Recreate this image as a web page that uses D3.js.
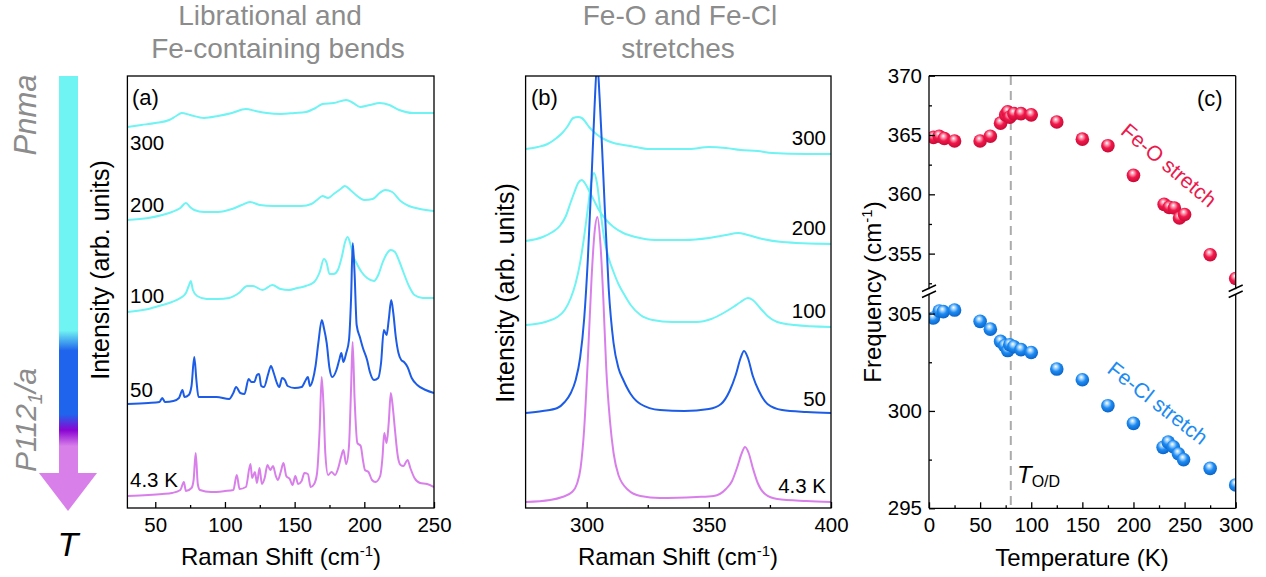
<!DOCTYPE html>
<html><head><meta charset="utf-8">
<script src="https://cdn.jsdelivr.net/npm/d3@7"></script>
<style>body{margin:0;background:#fff} svg text{font-family:"Liberation Sans",Arial,sans-serif}</style>
</head><body><svg id="c" width="1266" height="577"></svg>
<script>
// ---------- DATA ----------
// Panel (a): Raman spectra, low-frequency region (x: cm^-1, y: stacked intensity, arb. units)
const a300 = [[30,381],[40,383],[50,385],[60,388],[65,392],[69,395],[75,393],[85,390],[95,392],[105,395],[115,399],[122,397],[130,395],[140,394],[150,395],[158,396],[165,400],[170,404],[178,405],[187,408],[192,405],[197,401],[204,403],[211,405],[218,403],[225,398],[235,395],[250,395]];
const a200 = [[30,288],[45,290],[55,293],[62,296],[68,300],[72,305],[75,301],[78,298],[85,296],[95,296],[105,299],[112,303],[118,306],[125,303],[135,302],[145,302],[155,302],[162,304],[166,308],[170,312],[174,310],[178,314],[183,319],[186,322],[190,318],[194,313],[200,308],[206,309],[211,315],[215,318],[220,316],[226,307],[232,302],[240,299],[250,297]];
const a100 = [[30,196],[45,199],[55,203],[62,206],[68,210],[72,215],[74,222],[75.5,227],[77,218],[80,212],[87,209],[95,209],[103,210],[110,215],[116,222],[120,222],[127,218],[134,223],[140,219],[146,218],[152,220],[158,222],[164,226],[168,236],[171,249],[173,245],[175,234],[178,234],[181,238],[184,252],[186,265],[188,271],[190,264],[192,252],[194,246],[198,236],[202,230],[207,227],[210,233],[213,245],[216,254],[219,258],[222,256],[225,247],[228,236],[232,222],[236,213],[242,210],[250,210]];
const a50 = [[30,104],[45,105],[53,106],[55,110],[57,106],[63,107],[67,110],[69.5,118],[71,111],[74,113],[76,122],[78,151],[79.5,128],[81,111],[87,111],[94,111],[103,109],[106,115],[108,121],[111,115],[114,114],[117,129],[119,126],[121,126],[123,133],[124.5,134],[126,122],[128,121],[131,134],[133,142],[135,135],[137,126],[139,121],[141,130],[143,128],[145,122],[150,120],[155,121],[158,128],[159.5,131],[161,122],[163,128],[165,142],[167,165],[169.5,188],[171,180],[173,165],[175,140],[177,131],[180,138],[182,148],[183.5,155],[185,146],[187,155],[189,168],[190.5,210],[191.7,265],[193,235],[194.5,183],[197,170],[199,160],[202,148],[204,136],[207,128],[210,130],[212,145],[214,178],[216,173],[217.5,188],[219.3,208],[220.8,195],[222.5,172],[224.5,155],[226.5,148],[228.5,146],[231,141],[234,130],[238,123],[244,118],[250,115]];
const a4 = [[30,12],[45,13],[55,14],[62,15],[68,18],[70.5,26],[72,17],[76,20],[77.5,28],[79,55],[80.5,24],[82,18],[90,16],[100,17],[106,18],[108.5,33],[110.5,19],[115,21],[118.3,44],[119.5,30],[121.5,36],[123,25],[124.8,40],[126.5,24],[128.5,30],[130.5,43],[132.5,38],[134.5,42],[136.5,32],[138,28],[140,36],[142,45],[144,32],[146.5,29],[148.5,23],[150.5,32],[152.5,24],[155,27],[157,35],[159.5,34],[161.5,21],[164,24],[166,34],[168,80],[169.4,131],[170.8,100],[172,55],[174,33],[176.5,36],[179,33],[181.3,40],[183.5,52],[185,58],[187,44],[189,62],[190.5,120],[191.6,166],[193,110],[195,65],[197.4,62],[199,48],[200.5,38],[203,36],[205.5,28],[208,26],[211.4,32],[213,50],[214.3,75],[216,65],[217.5,85],[219,115],[220.5,100],[222,78],[224,52],[226,43],[228,42],[231,48],[233,40],[236,30],[240,25],[245,24],[250,21]];
const aLabels = ["300","200","100","50","4.3 K"];

// Panel (b): stretching region
const b300 = [[275,359],[280,361],[284,364],[287.7,370],[290,375],[292,381],[294.5,390],[296.5,391],[298,390],[299.5,386],[301,381],[303,376],[305,372],[307,369],[311,365],[315,363],[320,361],[325,359],[335,359],[342,359],[350,361],[357,360],[363,358],[370,357],[376,355],[390,354],[400,354]];
const b200 = [[275,267],[282,271],[286,276],[289,282],[291.5,292],[293.5,306],[295,316],[296.5,325],[298,328],[299.5,324],[301,317],[302.5,310],[305,298],[308,288],[311,281],[315,275],[320,271],[328,268],[340,268],[350,270],[357,273],[362,275],[366,273],[372,269],[380,266],[400,264]];
const b100 = [[275,183],[283,186],[288,191],[291,198],[293.5,210],[295.5,225],[297.3,245],[299,272],[300.5,300],[302,328],[303,335],[304.2,325],[305.5,300],[307,272],[309,250],[311,236],[313,224],[315,215],[318,203],[322,193],[327,188],[335,186],[345,186],[351,189],[356,195],[360,201],[363,206],[366,210],[368,208],[371,200],[374,192],[378,186],[385,183],[400,181]];
const b50 = [[275,95],[282,97],[288,100],[291,106],[293.5,115],[295.5,128],[297.3,150],[299,190],[300.5,250],[302,330],[303.2,400],[304.3,445],[305.3,410],[306.3,360],[307.5,295],[309,220],[311,165],[313,140],[315,128],[318,114],[322,104],[330,98],[340,97],[350,99],[355,104],[358.5,117],[361,133],[363,150],[364.4,157],[366,150],[368,132],[370.5,117],[374,104],[380,98],[390,96],[400,95]];
const b4 = [[275,6],[285,8],[290,11],[294,16],[296,24],[297.5,40],[299,80],[300.5,150],[302,230],[303.2,275],[304.4,291],[305.6,265],[306.8,210],[308,140],[309.5,88],[311,55],[313,33],[317,18],[322,12],[330,10],[345,11],[352,12],[357,19],[359.5,27],[361.5,40],[363.5,55],[364.8,61],[366.3,55],[368,40],[370,25],[373,14],[378,9],[390,7],[400,6]];

// Panel (c): mode frequency vs temperature
const tempFeO = [4.3,10,15,25,50,60,70,75,77,79,83,90,100,125,150,175,200,230,235,240,245,250,275,300];
const freqFeO = [364.8,364.9,364.7,364.5,364.5,364.9,366.0,366.7,366.95,366.5,366.8,366.8,366.7,366.1,364.65,364.1,361.6,359.15,358.9,358.85,358.0,358.3,354.9,352.9];
const tempFeCl = [4.3,10,14,25,50,60,70,74,77,79,83,90,100,125,150,175,200,229,234,239,244,249,275,300];
const freqFeCl = [304.77,305.13,305.1,305.18,304.6,304.2,303.57,303.35,303.1,303.4,303.3,303.15,303.0,302.15,301.6,300.27,299.36,298.13,298.4,298.16,297.8,297.5,297.05,296.2];
const tOD = 80;

const ticksA = [50,100,150,200,250], minorA = [75,125,175,225];
const ticksB = [300,350,400], minorB = [325,375];
const ticksCx = [0,50,100,150,200,250,300], minorCx = [25,75,125,175,225,275];
const ticksCtop = [355,360,365,370], minorCtop = [352.5,357.5,362.5,367.5];
const ticksCbot = [295,300,305], minorCbot = [297.5,302.5];

// ---------- DRAWING ----------
const svg = d3.select("#c");
const defs = svg.append("defs");
const FONT = '"Liberation Sans",Arial,sans-serif';
const cCyan = "#6ff3f3", cBlue = "#1c5ce6", cViolet = "#d87fea";
const colors = [cCyan, cCyan, cCyan, cBlue, cViolet];
const TICKF = 20.5, TITLEF = 24, LABF = 20.5;

function clipRect(id, x0, y0, x1, y1){
  defs.append("clipPath").attr("id", id).append("rect")
    .attr("x", x0).attr("y", y0).attr("width", x1 - x0).attr("height", y1 - y0);
}

function bottomAxis(scale, major, minor, y){
  const g = svg.append("g").attr("transform", `translate(0,${y})`);
  g.call(d3.axisBottom(scale).tickValues(major).tickSize(-6).tickPadding(9).tickFormat(d3.format("d")));
  g.append("g").call(d3.axisBottom(scale).tickValues(minor).tickSize(-3).tickFormat(""));
  g.selectAll(".domain").remove();
  g.selectAll("line").attr("stroke-width", 1.3);
  g.attr("font-family", FONT).attr("font-size", TICKF).selectAll("text").attr("fill", "#000");
  return g;
}
function cmTitle(x, y, transform, prefix){
  const t = svg.append("text").attr("text-anchor", "middle").attr("font-size", TITLEF);
  if (transform) t.attr("transform", transform); else t.attr("x", x).attr("y", y);
  t.append("tspan").text(prefix + " (cm");
  t.append("tspan").attr("font-size", 15).attr("dy", -9).text("-1");
  t.append("tspan").attr("dy", 9).text(")");
}

// titles
const titleG = svg.append("g").attr("fill", "#8c8c8c").attr("font-size", 28).attr("text-anchor", "middle");
[["Librational and", 270, 25], ["Fe-containing bends", 278, 58], ["Fe-O and Fe-Cl", 680, 25], ["stretches", 678, 58]]
  .forEach(([t, x, y]) => titleG.append("text").attr("x", x).attr("y", y).text(t));

// ---- Panel (a) ----
const xA = d3.scaleLinear().domain([30, 250]).range([127.4, 434]);
const yS = d3.scaleLinear().domain([0, 432]).range([508, 76]);
clipRect("clipA", 127.4, 76, 434, 508);
const lineA = d3.line().x(d => xA(d[0])).y(d => yS(d[1])).curve(d3.curveMonotoneX);
svg.append("g").attr("clip-path", "url(#clipA)").selectAll("path")
  .data([a300, a200, a100, a50, a4]).join("path")
  .attr("d", lineA).attr("fill", "none").attr("stroke", (d, i) => colors[i]).attr("stroke-width", 2);
bottomAxis(xA, ticksA, minorA, 508);
svg.append("rect").attr("x", 127.4).attr("y", 76).attr("width", 434 - 127.4).attr("height", 432)
  .attr("fill", "none").attr("stroke", "#000").attr("stroke-width", 1.3);
const labA = svg.append("g").attr("font-size", LABF);
[[0,150],[1,212],[2,303],[3,397],[4,487]].forEach(([i, y]) =>
  labA.append("text").attr("x", 130).attr("y", y).text(aLabels[i]));
svg.append("text").attr("x", 132).attr("y", 105).attr("font-size", 22).text("(a)");
svg.append("text").attr("transform", "translate(109,270) rotate(-90)").attr("text-anchor", "middle")
  .attr("font-size", 25).text("Intensity (arb. units)");
cmTitle(281, 565, null, "Raman Shift");

// ---- Panel (b) ----
const xB = d3.scaleLinear().domain([275, 400]).range([525.6, 831]);
clipRect("clipB", 525.6, 76, 831, 508);
const lineB = d3.line().x(d => xB(d[0])).y(d => yS(d[1])).curve(d3.curveMonotoneX);
svg.append("g").attr("clip-path", "url(#clipB)").selectAll("path")
  .data([b300, b200, b100, b50, b4]).join("path")
  .attr("d", lineB).attr("fill", "none").attr("stroke", (d, i) => colors[i]).attr("stroke-width", 2);
bottomAxis(xB, ticksB, minorB, 508);
svg.append("rect").attr("x", 525.6).attr("y", 76).attr("width", 831 - 525.6).attr("height", 432)
  .attr("fill", "none").attr("stroke", "#000").attr("stroke-width", 1.3);
const labB = svg.append("g").attr("font-size", LABF).attr("text-anchor", "end");
[[0,145],[1,235],[2,318],[3,406],[4,493]].forEach(([i, y]) =>
  labB.append("text").attr("x", 826).attr("y", y).text(aLabels[i]));
svg.append("text").attr("x", 531).attr("y", 105).attr("font-size", 22).text("(b)");
svg.append("text").attr("transform", "translate(514,293) rotate(-90)").attr("text-anchor", "middle")
  .attr("font-size", 25).text("Intensity (arb. units)");
cmTitle(678, 565, null, "Raman Shift");

// ---- Panel (c) ----
const xC = d3.scaleLinear().domain([0, 300]).range([929, 1235.7]);
const yTop = d3.scaleLinear().domain([352, 370]).range([289.2, 75.7]);
const yBot = d3.scaleLinear().domain([295, 306]).range([508.3, 294.1]);
const L = 929, R = 1235.7;

function sphere(id, light, base, dark){
  const g = defs.append("radialGradient").attr("id", id).attr("cx", "45%").attr("cy", "40%").attr("r", "60%").attr("fx", "42%").attr("fy", "30%");
  g.append("stop").attr("offset", "0%").attr("stop-color", "#ffffff");
  g.append("stop").attr("offset", "22%").attr("stop-color", light);
  g.append("stop").attr("offset", "55%").attr("stop-color", base);
  g.append("stop").attr("offset", "100%").attr("stop-color", dark);
}
sphere("gRed", "#ff9fb4", "#f0184b", "#c80a36");
sphere("gBlue", "#a9d6ff", "#1d8bf2", "#0a63c8");

clipRect("clipCt", L, 75.7, R, 289.2);
clipRect("clipCb", L, 294.1, R, 508.3);

svg.append("line").attr("x1", xC(tOD)).attr("x2", xC(tOD)).attr("y1", 76).attr("y2", 508)
  .attr("stroke", "#ababab").attr("stroke-width", 2).attr("stroke-dasharray", "9,6");

svg.append("g").attr("clip-path", "url(#clipCt)").selectAll("circle")
  .data(tempFeO.map((t, i) => [t, freqFeO[i]])).join("circle")
  .attr("cx", d => xC(d[0])).attr("cy", d => yTop(d[1])).attr("r", 6.8).attr("fill", "url(#gRed)");
svg.append("g").attr("clip-path", "url(#clipCb)").selectAll("circle")
  .data(tempFeCl.map((t, i) => [t, freqFeCl[i]])).join("circle")
  .attr("cx", d => xC(d[0])).attr("cy", d => yBot(d[1])).attr("r", 6.8).attr("fill", "url(#gBlue)");

bottomAxis(xC, ticksCx, minorCx, 508.3);
function leftAxis(scale, major, minor){
  const g = svg.append("g").attr("transform", `translate(${L},0)`);
  g.call(d3.axisLeft(scale).tickValues(major).tickSize(-6).tickPadding(7).tickFormat(d3.format("d")));
  g.append("g").call(d3.axisLeft(scale).tickValues(minor).tickSize(-3).tickFormat(""));
  g.selectAll(".domain").remove();
  g.selectAll("line").attr("stroke-width", 1.3);
  g.attr("font-family", FONT).attr("font-size", TICKF).selectAll("text").attr("fill", "#000");
}
leftAxis(yTop, ticksCtop, minorCtop);
leftAxis(yBot, ticksCbot, minorCbot);

const fr = svg.append("g").attr("stroke", "#000").attr("stroke-width", 1.3).attr("fill", "none");
fr.append("line").attr("x1", L).attr("x2", R).attr("y1", 75.7).attr("y2", 75.7);
fr.append("line").attr("x1", L).attr("x2", R).attr("y1", 508.3).attr("y2", 508.3);
[L, R].forEach(x => {
  fr.append("line").attr("x1", x).attr("x2", x).attr("y1", 75.7).attr("y2", 289.2);
  fr.append("line").attr("x1", x).attr("x2", x).attr("y1", 294.1).attr("y2", 508.3);
  fr.append("line").attr("x1", x - 7).attr("x2", x + 7).attr("y1", 291.5).attr("y2", 285).attr("stroke-width", 1.5);
  fr.append("line").attr("x1", x - 7).attr("x2", x + 7).attr("y1", 297.5).attr("y2", 291).attr("stroke-width", 1.5);
});

svg.append("text").attr("x", 1197).attr("y", 106).attr("font-size", 22).text("(c)");
svg.append("text").attr("transform", "translate(1169,165) rotate(40)").attr("text-anchor", "middle")
  .attr("dy", "0.35em").attr("font-size", 21).attr("fill", "#ea1a4d").text("Fe-O stretch");
svg.append("text").attr("transform", "translate(1158,403) rotate(38)").attr("text-anchor", "middle")
  .attr("dy", "0.35em").attr("font-size", 21).attr("fill", "#1d8bf2").text("Fe-Cl stretch");
const tod = svg.append("text").attr("x", 1017).attr("y", 483).attr("font-size", 24);
tod.append("tspan").attr("font-style", "italic").text("T");
tod.append("tspan").attr("font-size", 16).attr("dy", 4).text("O/D");

cmTitle(0, 0, "translate(881,292) rotate(-90)", "Frequency");
svg.append("text").attr("x", 1082).attr("y", 566).attr("text-anchor", "middle").attr("font-size", TITLEF).text("Temperature (K)");

// ---- Left temperature arrow ----
const lg = defs.append("linearGradient").attr("id", "gArrow").attr("x1", 0).attr("y1", 0).attr("x2", 0).attr("y2", 1);
[[0, cCyan], [0.64, cCyan], [0.69, "#1f64ec"], [0.85, "#1f64ec"], [0.89, "#8a05d2"], [0.93, cViolet], [1, cViolet]]
  .forEach(([o, c]) => lg.append("stop").attr("offset", o).attr("stop-color", c));
svg.append("rect").attr("x", 59).attr("y", 76).attr("width", 19).attr("height", 398).attr("fill", "url(#gArrow)");
svg.append("path").attr("d", "M39,473 L97,473 L68,511 Z").attr("fill", cViolet);
svg.append("text").attr("transform", "translate(36,115) rotate(-90)").attr("text-anchor", "middle")
  .attr("font-size", 31).attr("font-style", "italic").attr("fill", "#8c8c8c").text("Pnma");
const pg = svg.append("text").attr("transform", "translate(36,420) rotate(-90)").attr("text-anchor", "middle")
  .attr("font-size", 30).attr("font-style", "italic").attr("fill", "#8c8c8c");
pg.append("tspan").text("P112");
pg.append("tspan").attr("font-size", 20).attr("dy", 6).text("1");
pg.append("tspan").attr("dy", -6).text("/a");
svg.append("text").attr("x", 68).attr("y", 556).attr("text-anchor", "middle").attr("font-size", 34)
  .attr("font-style", "italic").text("T");
</script></body></html>
